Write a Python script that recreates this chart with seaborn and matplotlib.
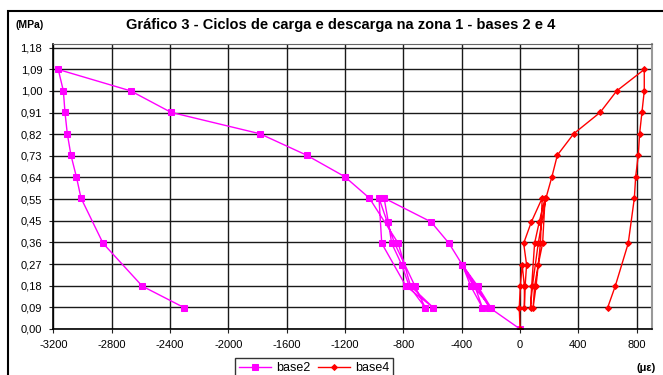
import matplotlib
matplotlib.use("Agg")
import matplotlib.pyplot as plt
import seaborn as sns
import pandas as pd
from matplotlib.patches import Rectangle

# base2 (magenta) - strain (micro-strain) vs stress (MPa), in load order
base2_x = [0, -210, -300, -396, -338, -258, -310, -396, -290, -199,
           -320, -396, -487, -610, -932, -903, -880, -811, -760, -650,
           -720, -860, -967, -948, -782, -595, -750, -835, -1033, -1202,
           -1463, -1783, -2393, -2669, -3166, -3131, -3120, -3104, -3079, -3042,
           -3010, -2859, -2590, -2304]
base2_y = [0.00, 0.09, 0.18, 0.27, 0.18, 0.09, 0.18, 0.27, 0.18, 0.09,
           0.18, 0.27, 0.36, 0.45, 0.55, 0.45, 0.36, 0.27, 0.18, 0.09,
           0.18, 0.36, 0.55, 0.36, 0.18, 0.09, 0.18, 0.36, 0.55, 0.64,
           0.73, 0.82, 0.91, 1.00, 1.09, 1.00, 0.91, 0.82, 0.73, 0.64,
           0.55, 0.36, 0.18, 0.09]

# base4 (red)
base4_x = [0, -5, 2, 15, 30, 30, 35, 45, 25, 78,
           152, 140, 110, 90, 100, 125, 155, 172, 132, 100,
           80, 72, 85, 125, 178, 219, 256, 368, 550, 663,
           852, 852, 836, 820, 811, 793, 784, 742, 653, 601]
base4_y = [0.00, 0.09, 0.18, 0.27, 0.18, 0.09, 0.18, 0.27, 0.36, 0.45,
           0.55, 0.36, 0.18, 0.09, 0.18, 0.27, 0.36, 0.55, 0.45, 0.36,
           0.18, 0.09, 0.18, 0.36, 0.55, 0.64, 0.73, 0.82, 0.91, 1.00,
           1.09, 1.00, 0.91, 0.82, 0.73, 0.64, 0.55, 0.36, 0.18, 0.09]

x_ticks = [-3200, -2800, -2400, -2000, -1600, -1200, -800, -400, 0, 400, 800]
y_labels = ["0,00", "0,09", "0,18", "0,27", "0,36", "0,45", "0,55",
            "0,64", "0,73", "0,82", "0,91", "1,00", "1,09", "1,18"]

plt.rcParams["font.family"] = ["Liberation Sans", "DejaVu Sans"]

df2 = pd.DataFrame({"x": base2_x, "y": base2_y})
df4 = pd.DataFrame({"x": base4_x, "y": base4_y})

fig = plt.figure(figsize=(6.63, 3.75), dpi=100)
ax = fig.add_axes([53.3 / 663, 1 - 329 / 375, (652 - 53.3) / 663, (329 - 44) / 375])

sns.lineplot(data=df2, x="x", y="y", sort=False, estimator=None, ax=ax,
             color="#FF00FF", lw=1, marker="s", markersize=4.5,
             markeredgecolor="#FF00FF", label="base2")
sns.lineplot(data=df4, x="x", y="y", sort=False, estimator=None, ax=ax,
             color="#FF0000", lw=1, marker="D", markersize=3,
             markeredgecolor="#FF0000", label="base4")

ax.set_xlim(-3200, 905)
ax.set_ylim(0, 1.197)
ax.set_xticks(x_ticks)
ax.set_xticklabels([str(t) for t in x_ticks])
ax.set_yticks([i / 11 for i in range(len(y_labels))])
ax.set_yticklabels(y_labels)
ax.grid(True, color="#1a1a1a", lw=1)
ax.set_axisbelow(True)
ax.set_xlabel("")
ax.set_ylabel("")
ax.tick_params(labelsize=8, length=3, pad=5, color="#222222")
for s in ["left", "bottom"]:
    ax.spines[s].set_color("black")
    ax.spines[s].set_linewidth(1.2)
ax.spines["top"].set_color("#666666")
ax.spines["right"].set_color("#999999")
ax.spines["right"].set_linewidth(1.5)

ax.get_legend().remove()
h, l = ax.get_legend_handles_labels()
leg = fig.legend(h, l, loc="upper center", bbox_to_anchor=(314 / 663, 1 - 352 / 375),
                 ncol=2, fontsize=9, frameon=True, fancybox=False,
                 edgecolor="black", handlelength=2.6, columnspacing=0.6,
                 handletextpad=0.4, borderpad=0.3)
leg.get_frame().set_linewidth(1)

fig.text(341 / 663, 1 - 25 / 375, "Gráfico 3 - Ciclos de carga e descarga na zona 1 - bases 2 e 4",
         ha="center", va="center", fontsize=10.5, fontweight="bold", color="black")
fig.text(30 / 663, 1 - 25 / 375, "(MPa)", ha="center", va="center",
         fontsize=7.5, fontweight="bold")
fig.text(646 / 663, 1 - 368 / 375, "(με)", ha="center", va="center",
         fontsize=8, fontweight="bold")

fig.patches.append(Rectangle((8 / 663, -0.2), 1.2, 1.2 - 11 / 375,
                             transform=fig.transFigure, fill=False,
                             edgecolor="black", lw=1.5))

fig.savefig("out.png", dpi=100)
